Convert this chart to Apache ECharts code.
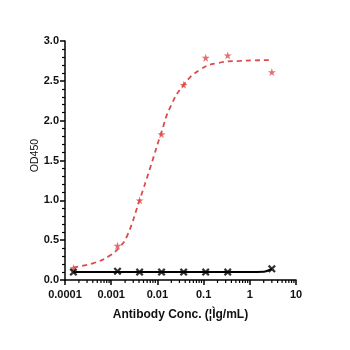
<!DOCTYPE html>
<html>
<head>
<meta charset="utf-8">
<script src="https://cdn.jsdelivr.net/npm/echarts@6/dist/echarts.min.js"></script>
<style>
  html, body { margin: 0; padding: 0; background: #fff; }
  #chart { width: 350px; height: 350px; }
</style>
</head>
<body>
<div id="chart"></div>
<script>
// antibody concentrations (ug/mL), 3-fold dilution
const conc = [0.000152, 0.00137, 0.00412, 0.0123, 0.037, 0.111, 0.333, 3];
const redValues = [0.15, 0.43, 1.00, 1.83, 2.45, 2.79, 2.82, 2.61];
const blackValues = [0.10, 0.11, 0.10, 0.10, 0.10, 0.10, 0.10, 0.14];

// fitted curves
const redFitX = [0.000152, 0.0004, 0.0009, 0.0015, 0.0022, 0.0041, 0.0069, 0.0123, 0.019, 0.037, 0.084, 0.19, 0.6, 3];
const redFitY = [0.16, 0.21, 0.30, 0.41, 0.55, 1.00, 1.40, 1.86, 2.17, 2.45, 2.64, 2.72, 2.75, 2.76];
const blackFitX = [0.000152, 0.001, 0.01, 0.1, 1, 2, 2.5, 3];
const blackFitY = [0.10, 0.10, 0.10, 0.10, 0.10, 0.105, 0.12, 0.14];

// minor ticks on the log axis (2..9 per decade)
const minorTickValues = [];
[0.0001, 0.001, 0.01, 0.1, 1].forEach((d) => {
  for (let k = 2; k <= 9; k++) minorTickValues.push(+(d * k).toPrecision(3));
});

const red = "#DC4B4B";
const font = "Liberation Sans, Arial, sans-serif";
const star = "path://M50,0 L61,35 L98,35 L68,57 L79,91 L50,70 L21,91 L32,57 L2,35 L39,35 Z";
const cross = "path://M2,0 L5,3 L8,0 L10,2 L7,5 L10,8 L8,10 L5,7 L2,10 L0,8 L3,5 L0,2 Z";

const zip = (xs, ys) => xs.map((x, i) => [x, ys[i]]);

const chart = echarts.init(document.getElementById("chart"), null, { renderer: "canvas" });

chart.setOption({
  animation: false,
  grid: { left: 65, right: 54, top: 41, bottom: 70 },
  xAxis: {
    type: "log",
    logBase: 10,
    min: 0.0001,
    max: 10,
    name: "Antibody Conc. (¦Ìg/mL)",
    nameLocation: "middle",
    nameGap: 29,
    nameTextStyle: { fontFamily: font, fontWeight: "bold", fontSize: 12, color: "#111" },
    axisLine: { show: true, onZero: false, lineStyle: { color: "#000", width: 1.5 } },
    axisTick: { show: true, length: 5, lineStyle: { color: "#000", width: 1.5 } },
    axisLabel: {
      margin: 9,
      fontFamily: font,
      fontWeight: "bold",
      fontSize: 11,
      color: "#111",
      formatter: (v) => {
        const labels = { "-4": "0.0001", "-3": "0.001", "-2": "0.01", "-1": "0.1", "0": "1", "1": "10" };
        return labels[Math.round(Math.log10(v))];
      },
    },
    splitLine: { show: false },
  },
  yAxis: {
    type: "value",
    min: 0,
    max: 3,
    interval: 0.5,
    name: "OD450",
    nameLocation: "middle",
    nameGap: 24,
    nameMoveOverlap: false,
    nameTextStyle: { fontFamily: font, fontSize: 10.5, color: "#111", padding: [0, 0, 0, 10] },
    axisLine: { show: true, lineStyle: { color: "#000", width: 1.5 } },
    axisTick: { show: true, length: 5, lineStyle: { color: "#000", width: 1.5 } },
    minorTick: { show: true, splitNumber: 5, length: 3, lineStyle: { color: "#000", width: 1.2 } },
    axisLabel: {
      margin: 6,
      fontFamily: font,
      fontWeight: "bold",
      fontSize: 11,
      color: "#111",
      formatter: (v) => v.toFixed(1),
    },
    splitLine: { show: false },
  },
  series: [
    {
      type: "custom",
      silent: true,
      data: minorTickValues.map((v) => [v, 0]),
      renderItem: (params, api) => {
        const p = api.coord([api.value(0), 0]);
        return {
          type: "line",
          shape: { x1: p[0], y1: p[1], x2: p[0], y2: p[1] + 3 },
          style: { stroke: "#000", lineWidth: 1.2 },
        };
      },
      z: 1,
    },
    {
      name: "fit red",
      type: "line",
      data: zip(redFitX, redFitY),
      smooth: true,
      showSymbol: false,
      lineStyle: { color: red, width: 1.8, type: [5, 4] },
    },
    {
      name: "fit black",
      type: "line",
      data: zip(blackFitX, blackFitY),
      smooth: true,
      showSymbol: false,
      lineStyle: { color: "#000", width: 2 },
    },
    {
      name: "sample",
      type: "scatter",
      data: zip(conc, redValues),
      symbol: star,
      symbolSize: 8,
      itemStyle: { color: red },
      z: 3,
    },
    {
      name: "control",
      type: "scatter",
      data: zip(conc, blackValues),
      symbol: cross,
      symbolSize: 8,
      itemStyle: { color: "#000" },
      z: 4,
    },
  ],
});
</script>
</body>
</html>
